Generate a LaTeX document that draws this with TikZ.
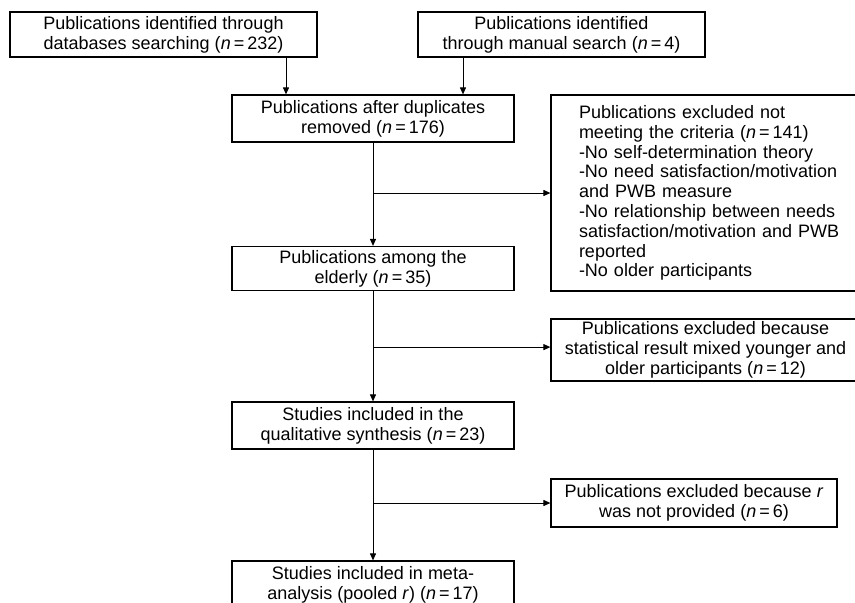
\documentclass[tikz,border=0pt]{standalone}
\usepackage{fontspec}
\setmainfont{Liberation Sans}
\usetikzlibrary{arrows.meta}
\tikzstyle{process} = [rectangle, minimum width=282pt, minimum height=47pt, text centered, align=center, draw=black, line width=1.2pt, inner sep=0pt]
\tikzstyle{arrow} = [line width=1pt,-{Triangle[length=7pt,width=6pt]}]
\newcommand{\nn}[1]{(\textit{n}\,=\,#1)}

\begin{document}
\begin{tikzpicture}[node distance=150pt, font=\fontsize{18}{19.8}\selectfont]
    \useasboundingbox (0,0) rectangle (855pt,-603pt);

    \node (dedup) [process] at (373pt,-118.5pt) {Publications after duplicates\\removed \nn{176}};
    \node (dbsearch) [process, minimum width=307pt, minimum height=45pt, above of=dedup, xshift=-209.5pt, yshift=-66pt] {Publications identified through\\databases searching \nn{232}};
    \node (manual) [process, minimum width=287pt, minimum height=45pt, right of=dbsearch, xshift=248pt] {Publications identified\\through manual search \nn{4}};
    \node (elderly) [process, minimum height=44pt, below of=dedup] {Publications among the\\elderly \nn{35}};
    \node (qual) [process, below of=elderly, yshift=-7pt] {Studies included in the\\qualitative synthesis \nn{23}};
    \node (meta) [process, below of=qual, yshift=-9pt] {Studies included in meta-\\analysis (pooled \textit{r}) \nn{17}};

    \node (excl1) [process, align=left, text width=270pt, inner xsep=28pt, minimum height=196pt, right of=dedup, xshift=191pt, yshift=-74.5pt] {Publications excluded not\\meeting the criteria \nn{141}\\-No self-determination theory\\-No need satisfaction/motivation\\and PWB measure\\-No relationship between needs\\satisfaction/motivation and PWB\\reported\\-No older participants};
    \node (excl2) [process, minimum width=309pt, minimum height=62pt, right of=elderly, xshift=182.5pt, yshift=-81.5pt] {Publications excluded because\\statistical result mixed younger and\\older participants \nn{12}};
    \node (excl3) [process, minimum width=286pt, minimum height=48pt, right of=qual, xshift=171pt, yshift=-77.5pt] {Publications excluded because \textit{r}\\was not provided \nn{6}};

    \draw [arrow] ([xshift=122.5pt]dbsearch.south) -- ([xshift=122.5pt]dbsearch.south |- dedup.north);
    \draw [arrow] ([xshift=-98.5pt]manual.south) -- ([xshift=-98.5pt]manual.south |- dedup.north);
    \draw [arrow] (dedup) -- (elderly);
    \draw [arrow] (elderly) -- (qual);
    \draw [arrow] (qual) -- (meta);

    \coordinate (br1) at (dedup.south |- excl1.west);
    \coordinate (br2) at ([yshift=-56pt]elderly.south);
    \coordinate (br3) at (qual.south |- excl3.west);
    \draw [arrow] (br1) -- (excl1.west);
    \draw [arrow] (br2) -- (br2 -| excl2.west);
    \draw [arrow] (br3) -- (excl3.west);

    \end{tikzpicture}
\end{document}
